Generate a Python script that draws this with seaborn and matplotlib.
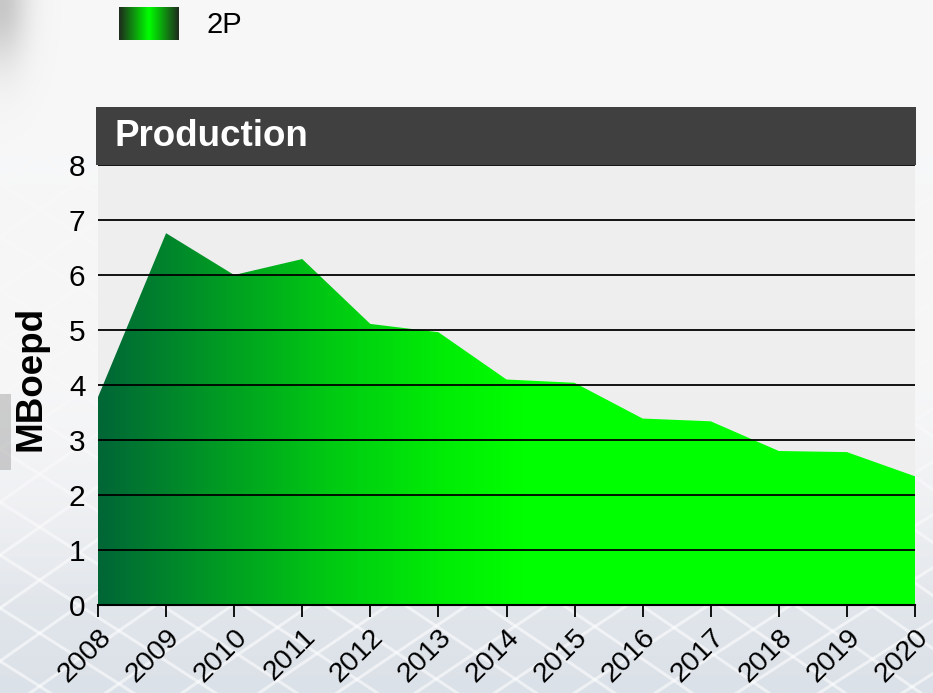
import numpy as np
import pandas as pd
import seaborn as sns
import matplotlib
matplotlib.use("Agg")
import matplotlib.pyplot as plt
import matplotlib.transforms as mtransforms
from matplotlib.colors import LinearSegmentedColormap
from matplotlib.patches import Rectangle

# ---- data ----
years = [2008, 2009, 2010, 2011, 2012, 2013, 2014, 2015, 2016, 2017, 2018, 2019, 2020]
production = [3.78, 6.76, 6.00, 6.29, 5.11, 4.96, 4.10, 4.04, 3.39, 3.34, 2.80, 2.78, 2.34]
series_label = "2P"
title_text = "Production"
y_label = "MBoepd"
y_ticks = [0, 1, 2, 3, 4, 5, 6, 7, 8]
x_tick_labels = [str(y) for y in years]

df = pd.DataFrame({"Year": years, "Production": production})

sns.set_theme(style="white")
plt.rcParams["font.family"] = ["Liberation Sans", "DejaVu Sans"]

W, H = 933, 693
fig = plt.figure(figsize=(W / 100, H / 100), dpi=100)

def px_axes(x0, y0, x1, y1, **kw):
    return fig.add_axes([x0 / W, (H - y1) / H, (x1 - x0) / W, (y1 - y0) / H], **kw)

# ---- background ----
bg = fig.add_axes([0, 0, 1, 1], zorder=-10)
bg_cmap = LinearSegmentedColormap.from_list(
    "bg", ["#fbfbfb", "#f5f6f7", "#eceef1", "#dbe1e8"])
grad = np.linspace(0, 1, 256).reshape(-1, 1)
bg.imshow(grad, extent=[0, 1, 0, 1], aspect="auto", cmap=bg_cmap, origin="upper", zorder=0)
# faint globe-grid lines in the background
t = np.linspace(-0.2, 1.2, 50)
for k in np.arange(-1.0, 1.2, 0.085):
    bg.plot(t, 0.9 * (t - k) - 0.05 * (t - 0.5) ** 2, color="white", lw=2.2, alpha=0.55, zorder=1)
    bg.plot(t, -0.9 * (t - k - 0.3) - 0.05 * (t - 0.5) ** 2, color="white", lw=2.2, alpha=0.55, zorder=1)
# soft fade of the grid toward the top
alpha_col = np.clip((np.linspace(1, 0, 256) - 0.12) / 0.35, 0, 0.9).reshape(-1, 1)
fade = np.ones((256, 1, 4))
fade[..., 0] = 0.97
fade[..., 1] = 0.972
fade[..., 2] = 0.976
fade[..., 3] = alpha_col
bg.imshow(fade, extent=[0, 1, 0, 1], aspect="auto", origin="upper", zorder=2)
# soft grey blob at top-left
gx, gy = np.meshgrid(np.linspace(0, 1, 300), np.linspace(1, 0, 240))
blob = np.zeros((240, 300, 4))
blob[..., :3] = 0.72
blob[..., 3] = 0.75 * np.exp(-((gx / 0.028) ** 2 + ((gy - 1.0) / 0.09) ** 2))
bg.imshow(blob, extent=[0, 1, 0, 1], aspect="auto", origin="upper", zorder=3)
bg.add_patch(Rectangle((0.0, 0.322), 0.012, 0.11, color="#9a9a9a", alpha=0.45, lw=0, zorder=3))
bg.set_xlim(0, 1)
bg.set_ylim(0, 1)
bg.axis("off")

# ---- main axes ----
ax = px_axes(98, 165, 915, 605, zorder=1)
ax.set_facecolor("#eeeeef")

sns.lineplot(data=df, x="Year", y="Production", ax=ax, color="#00ff00",
             linewidth=0, legend=False)
fill = ax.fill_between(df["Year"], df["Production"], 0, color="none", linewidth=0)
fill_cmap = LinearSegmentedColormap.from_list(
    "fill", [(0.0, "#006636"), (0.1, "#008a2a"), (0.18, "#00a61f"),
             (0.29, "#00cc12"), (0.42, "#00ec06"), (0.52, "#00ff00"), (1.0, "#00ff00")])
hgrad = np.linspace(0, 1, 512).reshape(1, -1)
im = ax.imshow(hgrad, extent=[years[0], years[-1], 0, max(y_ticks)],
               aspect="auto", cmap=fill_cmap, zorder=1, origin="lower")
im.set_clip_path(fill.get_paths()[0], transform=ax.transData)

ax.set_xlim(years[0], years[-1])
ax.set_ylim(y_ticks[0], y_ticks[-1])
ax.set_yticks(y_ticks)
ax.set_xticks(years)
ax.set_xticklabels(x_tick_labels, rotation=45, ha="right", va="top",
                   rotation_mode="anchor")
shift = mtransforms.ScaledTranslation(3 / 72, -3 / 72, fig.dpi_scale_trans)
for lab in ax.get_xticklabels():
    lab.set_transform(lab.get_transform() + shift)
ax.yaxis.grid(True, color="black", linewidth=1.3)
ax.xaxis.grid(False)
ax.set_axisbelow(False)
for s in ["left", "right", "top"]:
    ax.spines[s].set_visible(False)
ax.spines["bottom"].set_color("black")
ax.spines["bottom"].set_linewidth(1.5)
ax.spines["bottom"].set_zorder(3)
ax.tick_params(axis="y", length=0, pad=9, labelsize=21.5, labelcolor="black")
ax.tick_params(axis="x", direction="out", length=8.5, width=1.3, color="black",
               pad=5, labelsize=20.5, labelcolor="black", bottom=True)
ax.set_xlabel("")
ax.set_ylabel(y_label, fontsize=26.5, fontweight="bold", color="black")
ax.yaxis.set_label_coords(-0.060, 0.514, transform=ax.transAxes)

# ---- header bar ----
hdr = px_axes(96, 107, 916, 165, zorder=2)
hdr.set_facecolor("#404040")
hdr.set_xticks([])
hdr.set_yticks([])
for s in hdr.spines.values():
    s.set_visible(False)
hdr.text(0.023, 0.5, title_text, color="white", fontsize=26.5, fontweight="bold",
         ha="left", va="center", transform=hdr.transAxes)

# ---- legend ----
leg_ax = px_axes(119, 7, 179, 40, zorder=2)
leg_cmap = LinearSegmentedColormap.from_list(
    "leg", ["#1e2a1e", "#00ff00", "#1e2a1e"])
leg_ax.imshow(hgrad, aspect="auto", cmap=leg_cmap, extent=[0, 1, 0, 1])
leg_ax.axis("off")
fig.text(207 / W, 1 - 25 / H, series_label, fontsize=21, color="black",
         ha="left", va="center")

fig.savefig("out.png", dpi=100)
